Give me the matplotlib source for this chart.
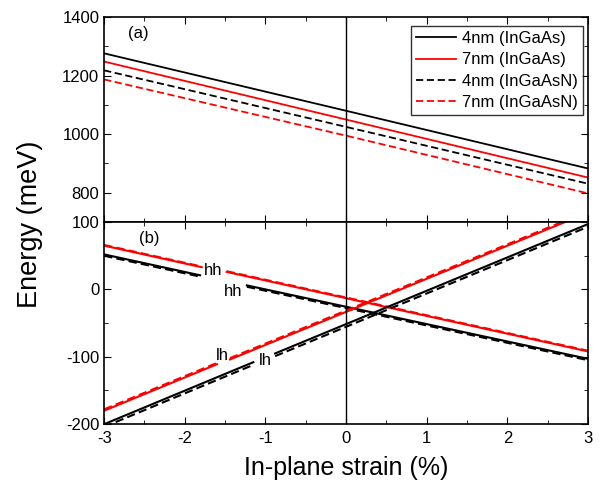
import matplotlib
matplotlib.use("Agg")
from matplotlib import pyplot as plt
from matplotlib.ticker import MultipleLocator

plt.rcParams['font.family'] = ['Liberation Sans', 'DejaVu Sans']
plt.rcParams['axes.unicode_minus'] = False

# panel (a): band gap energies (meV) at strain -3, 0, 3 %
strain = [-3, 0, 3]
e_4nm_ingaas = [1276, 1080, 883]
e_7nm_ingaas = [1248, 1050, 852]
e_4nm_ingaasn = [1218, 1025, 831]
e_7nm_ingaasn = [1187, 995, 798]

# panel (b): hh / lh levels, each line split in two pieces around its label
hh_7nm_x = [[-3, -1.79], [-1.48, 3]]
hh_7nm_y = [[65, 33], [26, -92]]
hh_7nm_n_y = [[66, 34], [27, -91]]
hh_4nm_x = [[-3, -1.81], [-1.23, 3]]
hh_4nm_y = [[52, 21], [6, -103]]
hh_4nm_n_y = [[50, 19], [4, -105]]

lh_7nm_x = [[-3, -1.6], [-1.44, 3]]
lh_7nm_y = [[-180, -111], [-104, 114]]
lh_7nm_n_y = [[-178, -109], [-102, 116]]
lh_4nm_x = [[-3, -1.15], [-0.88, 3]]
lh_4nm_y = [[-200, -108], [-95, 97]]
lh_4nm_n_y = [[-204, -112], [-99, 93]]

labels = ["4nm (InGaAs)", "7nm (InGaAs)", "4nm (InGaAsN)", "7nm (InGaAsN)"]

fig = plt.figure(figsize=(6.09, 4.87), dpi=100)
ax1 = fig.add_axes([0.171, 0.544, 0.7945, 0.421])
ax2 = fig.add_axes([0.171, 0.129, 0.7945, 0.415])

lw = 1.3
dash = (0, (4, 2))
ax1.plot(strain, e_4nm_ingaas, color='black', lw=lw, label=labels[0])
ax1.plot(strain, e_7nm_ingaas, color='red', lw=lw, label=labels[1])
ax1.plot(strain, e_4nm_ingaasn, color='black', lw=lw, ls=dash, label=labels[2])
ax1.plot(strain, e_7nm_ingaasn, color='red', lw=lw, ls=dash, label=labels[3])
ax1.axvline(0, color='black', lw=1)

for xs, ys, yn, c in [(hh_4nm_x, hh_4nm_y, hh_4nm_n_y, 'black'),
                      (hh_7nm_x, hh_7nm_y, hh_7nm_n_y, 'red'),
                      (lh_4nm_x, lh_4nm_y, lh_4nm_n_y, 'black'),
                      (lh_7nm_x, lh_7nm_y, lh_7nm_n_y, 'red')]:
    for i in range(len(xs)):
        ax2.plot(xs[i], ys[i], color=c, lw=1.5)
        ax2.plot(xs[i], yn[i], color=c, lw=1.5, ls=dash)
ax2.axvline(0, color='black', lw=1)

ax2.text(-1.65, 28, "hh", fontsize=12, ha='center', va='center')
ax2.text(-1.40, -3, "hh", fontsize=12, ha='center', va='center')
ax2.text(-1.54, -98, "lh", fontsize=12, ha='center', va='center')
ax2.text(-1.0, -106, "lh", fontsize=12, ha='center', va='center')

ax1.set_ylim(700, 1400)
ax2.set_ylim(-200, 100)
for ax in (ax1, ax2):
    ax.set_xlim(-3, 3)
    ax.xaxis.set_major_locator(MultipleLocator(1))
    ax.xaxis.set_minor_locator(MultipleLocator(0.5))
    ax.tick_params(which='both', direction='in', top=True, right=True, labelsize=12)
    ax.tick_params(which='major', length=5)
    ax.tick_params(which='minor', length=3)
    ax.tick_params(axis='x', pad=5)
    for s in ax.spines.values():
        s.set_linewidth(1.2)
ax1.yaxis.set_minor_locator(MultipleLocator(100))
ax1.set_yticks([800, 1000, 1200, 1400])
ax1.tick_params(labelbottom=False)
ax2.yaxis.set_major_locator(MultipleLocator(100))
ax2.yaxis.set_minor_locator(MultipleLocator(50))

ax1.text(0.05, 0.92, "(a)", transform=ax1.transAxes, fontsize=12, va='center')
ax2.text(0.072, 0.92, "(b)", transform=ax2.transAxes, fontsize=12, va='center')

leg = ax1.legend(loc='upper right', bbox_to_anchor=(0.99, 0.956), fontsize=12,
                 handlelength=2.4, frameon=True, fancybox=False, edgecolor='black',
                 borderaxespad=0, labelspacing=0.38, borderpad=0.3, handletextpad=0.4)
leg.get_frame().set_linewidth(1)

ax2.set_xlabel("In-plane strain (%)", fontsize=18, labelpad=7)
fig.text(0.049, 0.54, "Energy (meV)", rotation=90, fontsize=19.5, ha='center', va='center')

fig.savefig("out.png", dpi=100)
